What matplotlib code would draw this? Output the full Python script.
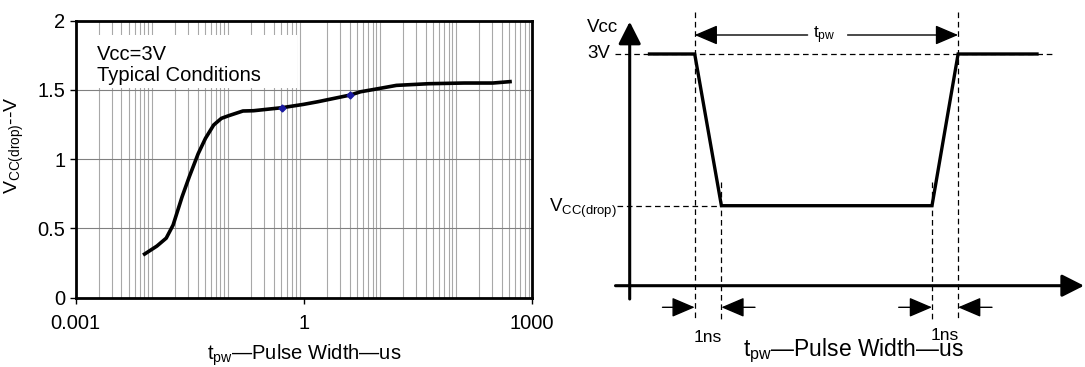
import numpy as np
import matplotlib
matplotlib.use('Agg')
import matplotlib.pyplot as plt
from matplotlib.patches import Rectangle
from matplotlib.ticker import LogLocator, NullFormatter, FixedLocator

plt.rcParams['font.family'] = ['Liberation Sans', 'DejaVu Sans']
plt.rcParams['mathtext.fontset'] = 'custom'
plt.rcParams['mathtext.rm'] = 'Liberation Sans'
plt.rcParams['mathtext.it'] = 'Liberation Sans'

# Curva Vcc(drop) x largura do pulso
tpw_us = [0.00805, 0.0117, 0.0155, 0.0191, 0.0251, 0.0312, 0.0408, 0.0508,
          0.0652, 0.0824, 0.1026, 0.158, 0.218, 0.518, 0.993, 1.53, 4.05,
          5.58, 8.6, 16.5, 43.6, 129, 306, 514]
vcc_drop = [0.315, 0.373, 0.43, 0.525, 0.73, 0.874, 1.04, 1.15, 1.247,
            1.295, 1.314, 1.348, 1.350, 1.372, 1.396, 1.415, 1.463, 1.487,
            1.505, 1.533, 1.545, 1.55, 1.55, 1.56]
marker_t = [0.518, 4.05]
marker_v = [1.372, 1.463]

x_ticks = [0.001, 1, 1000]
x_ticklabels = ['0.001', '1', '1000']
y_ticks = [0, 0.5, 1, 1.5, 2]
y_ticklabels = ['0', '0.5', '1', '1.5', '2']

# Diagrama do pulso (coordenadas esquemáticas em pixels)
pulse_t = [649.5, 694.7, 721.4, 932, 958.1, 1037]
level_3v = 54
level_drop = 205.7
pulse_v = [level_3v, level_3v, level_drop, level_drop, level_3v, level_3v]
edge_t = [694.7, 721.4, 932, 958.1]
axis_x0, axis_y0 = 629.7, 285.7

W, H = 1085, 367
fig = plt.figure(figsize=(W / 100, H / 100), dpi=100)

# ---------------- gráfico da esquerda ----------------
ax = fig.add_axes([75.7 / W, 1 - 297.7 / H, (532 - 75.7) / W, (297.7 - 20.7) / H])
ax.set_xscale('log')
ax.set_xlim(0.001, 1000)
ax.set_ylim(0, 2)
ax.xaxis.set_major_locator(FixedLocator(x_ticks))
ax.set_xticklabels(x_ticklabels)
ax.xaxis.set_minor_locator(LogLocator(base=10, subs=np.arange(1, 10), numticks=100))
ax.xaxis.set_minor_formatter(NullFormatter())
ax.set_yticks(y_ticks)
ax.set_yticklabels(y_ticklabels)
ax.tick_params(axis='both', which='major', labelsize=14.5, length=4, width=1, direction='out')
ax.tick_params(axis='x', which='major', pad=7.5)
ax.tick_params(axis='x', which='minor', length=0)

ax.grid(True, which='minor', axis='x', color='#a8a8a8', lw=0.8)
ax.grid(True, which='major', axis='y', color='#808080', lw=0.8)
for s in ax.spines.values():
    s.set_linewidth(2)
ax.set_axisbelow(True)

ax.add_patch(Rectangle((0.031, 0.757), 0.454, 0.191, transform=ax.transAxes,
                       facecolor='white', edgecolor='none', zorder=1.5))
ax.text(0.046, 0.912, 'Vcc=3V\nTypical Conditions', transform=ax.transAxes,
        fontsize=14.5, va='top', ha='left', linespacing=1.12, zorder=3)

ax.plot(tpw_us, vcc_drop, color='black', lw=2.6, zorder=4)
ax.plot(marker_t, marker_v, ls='none', marker='D', ms=3.5, color='#1a1aa0', zorder=5)

ax.set_ylabel(r'V$_{\mathrm{CC(drop)}}$--V', fontsize=14)
ax.yaxis.set_label_coords(-0.108, 0.549)
ax.set_xlabel(r't$_{\mathrm{pw}}$—Pulse Width—us', fontsize=14.5)
ax.xaxis.set_label_coords(0.5, -0.163)

# ---------------- diagrama da direita ----------------
ax2 = fig.add_axes([560 / W, 0, (W - 560) / W, 1])
ax2.set_xlim(560, W)
ax2.set_ylim(H, 0)
ax2.axis('off')

head = dict(arrowstyle='-|>,head_length=0.75,head_width=0.32', color='black', lw=1.0,
            shrinkA=0, shrinkB=0, mutation_scale=19)
big_head = dict(arrowstyle='-|>,head_length=0.75,head_width=0.38', color='black', lw=2.2,
                shrinkA=0, shrinkB=0, mutation_scale=18)
dash = (0, (4.5, 3))

# eixos
ax2.annotate('', xy=(axis_x0, 21.7), xytext=(axis_x0, 299), arrowprops=big_head)
ax2.annotate('', xy=(1084, axis_y0), xytext=(615.5, axis_y0), arrowprops=big_head)

# linhas tracejadas
ax2.plot([615, 1053], [level_3v, level_3v], ls=dash, color='black', lw=0.9)
ax2.plot([617, edge_t[1]], [level_drop, level_drop], ls=dash, color='black', lw=0.9)
ax2.plot([edge_t[0], edge_t[0]], [12, 320], ls=dash, color='black', lw=0.9)
ax2.plot([edge_t[3], edge_t[3]], [12, 320], ls=dash, color='black', lw=0.9)
ax2.plot([edge_t[1], edge_t[1]], [181.7, 320], ls=dash, color='black', lw=0.9)
ax2.plot([edge_t[2], edge_t[2]], [181.7, 320], ls=dash, color='black', lw=0.9)

# pulso
ax2.plot(pulse_t, pulse_v, color='black', lw=2.4, solid_joinstyle='miter', zorder=5)

# seta tpw
ax2.annotate('', xy=(edge_t[0], 35), xytext=(807.6, 35), arrowprops=head)
ax2.annotate('', xy=(edge_t[3], 35), xytext=(847.6, 35), arrowprops=head)
ax2.text(824, 35, r't$_{\mathrm{pw}}$', fontsize=12.5, ha='center', va='center')

# setas 1ns
ax2.annotate('', xy=(edge_t[0], 307.3), xytext=(662.5, 307.3), arrowprops=head)
ax2.annotate('', xy=(edge_t[1], 307.3), xytext=(755, 307.3), arrowprops=head)
ax2.annotate('', xy=(edge_t[2], 307.3), xytext=(898.7, 307.3), arrowprops=head)
ax2.annotate('', xy=(edge_t[3], 307.3), xytext=(992, 307.3), arrowprops=head)
ax2.text(708, 337, '1ns', fontsize=12.6, ha='center', va='center')
ax2.text(945, 335, '1ns', fontsize=12.6, ha='center', va='center')

# rótulos
ax2.text(618, 28, 'Vcc', fontsize=13.5, ha='right', va='center')
ax2.text(610, 53, '3V', fontsize=13.5, ha='right', va='center')
ax2.text(617, 208, r'V$_{\mathrm{CC(drop)}}$', fontsize=13.5, ha='right', va='center')
ax2.text(853, 351, r't$_{\mathrm{pw}}$—Pulse Width—us', fontsize=16.5, ha='center', va='center')

fig.savefig('out.png', dpi=100)
